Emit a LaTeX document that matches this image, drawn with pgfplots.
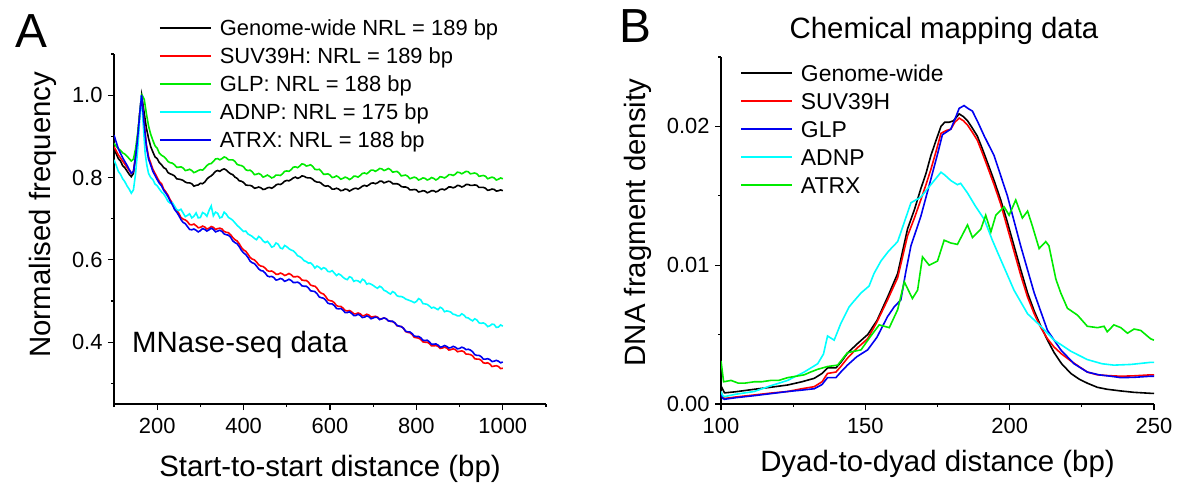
\documentclass[border=0pt]{standalone}
\usepackage{fontspec}
\setmainfont{Liberation Sans}
\usepackage{pgfplots}
\pgfplotsset{compat=1.18}
\definecolor{cred}{RGB}{255,0,0}
\definecolor{cgreen}{RGB}{0,235,0}
\definecolor{ccyan}{RGB}{0,255,255}
\definecolor{cblue}{RGB}{0,0,240}
\pgfplotsset{
  myaxis/.style={
    scale only axis, anchor=south west,
    axis lines=left,
    x axis line style={-}, y axis line style={-},
    axis line style={line width=1.2bp},
    tick align=outside, major tick length=6bp, minor tick length=3bp,
    every tick/.append style={line width=1.2bp, black},
    tick label style={font=\fontsize{22}{26}\selectfont},
    xticklabel style={yshift=-5bp},
    yticklabel style={xshift=-2bp},
    /pgf/number format/assume math mode=true,
    /pgf/number format/1000 sep={},
    legend cell align=left,
    legend image code/.code={\draw[##1, line width=1.7bp] (0bp,0bp) -- (51bp,0bp);},
    legend style={draw=none, fill=none, inner sep=0pt, column sep=7bp},
    every axis plot/.append style={line width=1.6bp, no markers},
  }
}
\begin{document}
\begin{tikzpicture}
\useasboundingbox (0bp,0bp) rectangle (1182bp,484bp);
% ---------------- Panel A ----------------
\begin{axis}[myaxis, at={(114bp,80bp)}, width=432bp, height=350bp,
  xmin=100, xmax=1100, ymin=0.25, ymax=1.1,
  xtick={200,400,...,1000}, minor xtick={100,300,...,1100},
  ytick={0.4,0.6,0.8,1.0}, minor ytick={0.3,0.5,0.7,0.9,1.1},
  yticklabel style={/pgf/number format/.cd, fixed, fixed zerofill, precision=1},
  xlabel={Start-to-start distance (bp)}, ylabel={Normalised frequency},
  every axis x label/.style={at={(axis description cs:0.5,-0.206)}, anchor=base, font=\fontsize{29.5}{34}\selectfont},
  every axis y label/.style={at={(axis description cs:-0.148,0.541)}, rotate=90, anchor=base, font=\fontsize{29.5}{34}\selectfont},
  legend style={at={(axis description cs:0.104,1.1015)}, anchor=north west, row sep=9bp,
    font=\fontsize{22}{26}\selectfont, nodes={inner sep=1bp, text height=16bp, text depth=1bp}},
]
\addplot[black] coordinates {(100,0.867)(105,0.858)(110,0.846)(115,0.84)(120,0.829)(125,0.824)(130,0.816)(135,0.808)(140,0.802)(145,0.81)(150,0.85)(155,0.9)(160,0.96)(164,1.0)(168,0.97)(175,0.92)(180,0.895)(185,0.875)(190,0.862)(195,0.85)(200,0.846)(205,0.836)(210,0.831)(215,0.824)(220,0.821)(225,0.812)(230,0.809)(235,0.807)(240,0.804)(245,0.797)(250,0.796)(255,0.795)(260,0.793)(265,0.789)(270,0.787)(275,0.787)(280,0.785)(285,0.779)(290,0.781)(295,0.782)(300,0.786)(305,0.785)(310,0.789)(315,0.796)(320,0.801)(325,0.804)(330,0.809)(335,0.815)(340,0.817)(345,0.815)(350,0.819)(355,0.821)(360,0.818)(365,0.813)(370,0.809)(375,0.807)(380,0.801)(385,0.798)(390,0.792)(395,0.791)(400,0.788)(405,0.782)(410,0.781)(415,0.781)(420,0.779)(425,0.774)(430,0.775)(435,0.777)(440,0.775)(445,0.771)(450,0.772)(455,0.775)(460,0.776)(465,0.774)(470,0.777)(475,0.782)(480,0.784)(485,0.783)(490,0.786)(495,0.791)(500,0.793)(505,0.792)(510,0.795)(515,0.799)(520,0.801)(525,0.798)(530,0.8)(535,0.804)(540,0.803)(545,0.8)(550,0.799)(555,0.799)(560,0.796)(565,0.791)(570,0.789)(575,0.789)(580,0.786)(585,0.781)(590,0.779)(595,0.78)(600,0.777)(605,0.772)(610,0.772)(615,0.774)(620,0.772)(625,0.768)(630,0.769)(635,0.772)(640,0.771)(645,0.767)(650,0.77)(655,0.773)(660,0.774)(665,0.772)(670,0.775)(675,0.779)(680,0.781)(685,0.779)(690,0.782)(695,0.786)(700,0.787)(705,0.785)(710,0.787)(715,0.791)(720,0.791)(725,0.787)(730,0.789)(735,0.791)(740,0.79)(745,0.785)(750,0.785)(755,0.785)(760,0.783)(765,0.778)(770,0.777)(775,0.777)(780,0.775)(785,0.77)(790,0.77)(795,0.771)(800,0.77)(805,0.765)(810,0.766)(815,0.768)(820,0.767)(825,0.763)(830,0.765)(835,0.768)(840,0.768)(845,0.765)(850,0.767)(855,0.771)(860,0.772)(865,0.77)(870,0.773)(875,0.777)(880,0.777)(885,0.775)(890,0.777)(895,0.781)(900,0.78)(905,0.777)(910,0.779)(915,0.783)(920,0.783)(925,0.781)(930,0.781)(935,0.782)(940,0.781)(945,0.776)(950,0.776)(955,0.776)(960,0.774)(965,0.769)(970,0.77)(975,0.772)(980,0.771)(985,0.767)(990,0.768)(995,0.77)(1000,0.768)};
\addlegendentry{Genome-wide NRL = 189 bp}
\addplot[cred] coordinates {(100,0.875)(110,0.855)(120,0.84)(130,0.825)(140,0.81)(145,0.815)(150,0.85)(155,0.9)(160,0.96)(164,1.0)(168,0.95)(175,0.88)(180,0.85)(190,0.82)(200,0.80)(205,0.79)(210,0.785)(215,0.772)(220,0.765)(225,0.757)(230,0.746)(235,0.738)(240,0.727)(245,0.721)(250,0.713)(255,0.703)(260,0.699)(265,0.697)(270,0.693)(275,0.686)(280,0.685)(285,0.687)(290,0.683)(295,0.678)(300,0.679)(305,0.682)(310,0.68)(315,0.675)(320,0.677)(325,0.681)(330,0.679)(335,0.674)(340,0.676)(345,0.677)(350,0.675)(355,0.669)(360,0.667)(365,0.666)(370,0.661)(375,0.654)(380,0.649)(385,0.646)(390,0.639)(395,0.63)(400,0.624)(405,0.621)(410,0.614)(415,0.606)(420,0.602)(425,0.6)(430,0.595)(435,0.588)(440,0.585)(445,0.584)(450,0.58)(455,0.574)(460,0.572)(465,0.573)(470,0.57)(475,0.565)(480,0.565)(485,0.568)(490,0.566)(495,0.562)(500,0.564)(505,0.567)(510,0.564)(515,0.559)(520,0.559)(525,0.56)(530,0.557)(535,0.551)(540,0.55)(545,0.55)(550,0.546)(555,0.539)(560,0.537)(565,0.536)(570,0.531)(575,0.523)(580,0.519)(585,0.517)(590,0.511)(595,0.503)(600,0.501)(605,0.5)(610,0.496)(615,0.489)(620,0.487)(625,0.487)(630,0.483)(635,0.477)(640,0.476)(645,0.477)(650,0.474)(655,0.469)(660,0.469)(665,0.471)(670,0.469)(675,0.464)(680,0.465)(685,0.468)(690,0.466)(695,0.461)(700,0.462)(705,0.463)(710,0.461)(715,0.456)(720,0.457)(725,0.459)(730,0.457)(735,0.452)(740,0.451)(745,0.45)(750,0.447)(755,0.44)(760,0.439)(765,0.438)(770,0.434)(775,0.426)(780,0.424)(785,0.423)(790,0.419)(795,0.412)(800,0.411)(805,0.41)(810,0.407)(815,0.401)(820,0.4)(825,0.4)(830,0.397)(835,0.391)(840,0.391)(845,0.392)(850,0.39)(855,0.385)(860,0.386)(865,0.388)(870,0.386)(875,0.381)(880,0.382)(885,0.384)(890,0.382)(895,0.377)(900,0.378)(905,0.379)(910,0.377)(915,0.371)(920,0.371)(925,0.37)(930,0.367)(935,0.36)(940,0.359)(945,0.359)(950,0.356)(955,0.35)(960,0.349)(965,0.35)(970,0.347)(975,0.341)(980,0.342)(985,0.343)(990,0.341)(995,0.336)(1000,0.337)};
\addlegendentry{SUV39H: NRL = 189 bp}
\addplot[cgreen] coordinates {(100,0.883)(105,0.876)(110,0.87)(115,0.866)(120,0.86)(125,0.857)(130,0.852)(135,0.846)(140,0.84)(145,0.845)(150,0.87)(155,0.91)(160,0.96)(165,1.0)(170,0.99)(175,0.955)(180,0.925)(185,0.905)(190,0.89)(195,0.877)(200,0.871)(205,0.859)(210,0.854)(215,0.851)(220,0.846)(225,0.839)(230,0.836)(235,0.835)(240,0.831)(245,0.825)(250,0.825)(255,0.826)(260,0.823)(265,0.817)(270,0.818)(275,0.82)(280,0.817)(285,0.812)(290,0.814)(295,0.817)(300,0.819)(305,0.818)(310,0.823)(315,0.829)(320,0.833)(325,0.834)(330,0.839)(335,0.845)(340,0.846)(345,0.843)(350,0.846)(355,0.85)(360,0.848)(365,0.843)(370,0.843)(375,0.843)(380,0.839)(385,0.832)(390,0.83)(395,0.829)(400,0.826)(405,0.819)(410,0.817)(415,0.818)(420,0.814)(425,0.807)(430,0.808)(435,0.81)(440,0.807)(445,0.801)(450,0.803)(455,0.806)(460,0.803)(465,0.799)(470,0.801)(475,0.806)(480,0.806)(485,0.805)(490,0.809)(495,0.815)(500,0.816)(505,0.815)(510,0.819)(515,0.825)(520,0.826)(525,0.824)(530,0.828)(535,0.833)(540,0.832)(545,0.828)(550,0.829)(555,0.831)(560,0.827)(565,0.82)(570,0.819)(575,0.82)(580,0.815)(585,0.808)(590,0.808)(595,0.809)(600,0.806)(605,0.8)(610,0.801)(615,0.804)(620,0.801)(625,0.796)(630,0.798)(635,0.801)(640,0.799)(645,0.795)(650,0.798)(655,0.803)(660,0.803)(665,0.801)(670,0.805)(675,0.81)(680,0.811)(685,0.809)(690,0.813)(695,0.818)(700,0.818)(705,0.815)(710,0.818)(715,0.822)(720,0.821)(725,0.817)(730,0.819)(735,0.822)(740,0.819)(745,0.813)(750,0.814)(755,0.815)(760,0.811)(765,0.804)(770,0.805)(775,0.806)(780,0.803)(785,0.797)(790,0.799)(795,0.801)(800,0.799)(805,0.794)(810,0.796)(815,0.799)(820,0.798)(825,0.794)(830,0.796)(835,0.8)(840,0.798)(845,0.794)(850,0.797)(855,0.802)(860,0.801)(865,0.799)(870,0.802)(875,0.807)(880,0.807)(885,0.805)(890,0.808)(895,0.813)(900,0.812)(905,0.809)(910,0.812)(915,0.815)(920,0.814)(925,0.809)(930,0.81)(935,0.811)(940,0.809)(945,0.803)(950,0.804)(955,0.805)(960,0.803)(965,0.797)(970,0.799)(975,0.801)(980,0.799)(985,0.794)(990,0.796)(995,0.799)(1000,0.797)};
\addlegendentry{GLP: NRL = 188 bp}
\addplot[ccyan] coordinates {(100,0.843)(105,0.83)(110,0.815)(115,0.808)(120,0.797)(125,0.79)(130,0.78)(135,0.772)(140,0.762)(145,0.77)(150,0.81)(155,0.87)(160,0.95)(163,1.0)(167,0.94)(172,0.86)(176,0.83)(180,0.81)(185,0.8)(190,0.795)(195,0.784)(200,0.78)(205,0.772)(210,0.765)(215,0.76)(220,0.752)(225,0.742)(230,0.738)(235,0.739)(240,0.731)(245,0.722)(250,0.72)(255,0.723)(260,0.714)(265,0.705)(270,0.708)(275,0.712)(280,0.702)(285,0.706)(290,0.714)(295,0.702)(300,0.703)(305,0.715)(310,0.712)(315,0.706)(320,0.72)(325,0.731)(330,0.707)(335,0.716)(340,0.713)(345,0.702)(350,0.704)(355,0.716)(360,0.711)(365,0.703)(370,0.70)(375,0.696)(380,0.69)(385,0.684)(390,0.679)(395,0.674)(400,0.669)(405,0.67)(410,0.663)(415,0.66)(420,0.657)(425,0.652)(430,0.649)(435,0.657)(440,0.653)(445,0.646)(450,0.642)(455,0.645)(460,0.639)(465,0.631)(470,0.633)(475,0.641)(480,0.638)(485,0.629)(490,0.627)(495,0.635)(500,0.632)(505,0.627)(510,0.624)(515,0.622)(520,0.617)(525,0.61)(530,0.608)(535,0.604)(540,0.598)(545,0.596)(550,0.592)(555,0.593)(560,0.588)(565,0.58)(570,0.585)(575,0.582)(580,0.577)(585,0.581)(590,0.579)(595,0.572)(600,0.571)(605,0.574)(610,0.568)(615,0.562)(620,0.566)(625,0.563)(630,0.558)(635,0.554)(640,0.552)(645,0.559)(650,0.557)(655,0.548)(660,0.55)(665,0.549)(670,0.545)(675,0.553)(680,0.55)(685,0.541)(690,0.543)(695,0.541)(700,0.538)(705,0.534)(710,0.531)(715,0.536)(720,0.533)(725,0.526)(730,0.524)(735,0.52)(740,0.517)(745,0.523)(750,0.52)(755,0.513)(760,0.511)(765,0.511)(770,0.509)(775,0.505)(780,0.503)(785,0.501)(790,0.499)(795,0.496)(800,0.499)(805,0.506)(810,0.503)(815,0.494)(820,0.493)(825,0.492)(830,0.488)(835,0.483)(840,0.485)(845,0.482)(850,0.479)(855,0.485)(860,0.482)(865,0.474)(870,0.476)(875,0.475)(880,0.473)(885,0.468)(890,0.467)(895,0.464)(900,0.464)(905,0.469)(910,0.466)(915,0.46)(920,0.459)(925,0.455)(930,0.452)(935,0.457)(940,0.454)(945,0.447)(950,0.446)(955,0.447)(960,0.444)(965,0.438)(970,0.44)(975,0.444)(980,0.443)(985,0.436)(990,0.437)(995,0.442)(1000,0.439)};
\addlegendentry{ADNP: NRL = 175 bp}
\addplot[cblue] coordinates {(100,0.903)(110,0.87)(120,0.848)(130,0.83)(140,0.81)(145,0.815)(150,0.85)(155,0.9)(160,0.96)(164,1.0)(168,0.95)(175,0.875)(180,0.845)(190,0.815)(200,0.795)(205,0.786)(210,0.78)(215,0.769)(220,0.762)(225,0.754)(230,0.743)(235,0.734)(240,0.723)(245,0.716)(250,0.708)(255,0.698)(260,0.691)(265,0.688)(270,0.681)(275,0.674)(280,0.673)(285,0.675)(290,0.672)(295,0.668)(300,0.671)(305,0.676)(310,0.674)(315,0.67)(320,0.673)(325,0.677)(330,0.674)(335,0.668)(340,0.67)(345,0.672)(350,0.669)(355,0.663)(360,0.661)(365,0.66)(370,0.655)(375,0.646)(380,0.642)(385,0.639)(390,0.632)(395,0.623)(400,0.617)(405,0.613)(410,0.606)(415,0.597)(420,0.593)(425,0.591)(430,0.585)(435,0.578)(440,0.574)(445,0.573)(450,0.568)(455,0.561)(460,0.559)(465,0.56)(470,0.557)(475,0.551)(480,0.552)(485,0.555)(490,0.553)(495,0.548)(500,0.55)(505,0.553)(510,0.55)(515,0.545)(520,0.545)(525,0.546)(530,0.543)(535,0.537)(540,0.536)(545,0.536)(550,0.532)(555,0.525)(560,0.524)(565,0.523)(570,0.518)(575,0.51)(580,0.508)(585,0.507)(590,0.502)(595,0.495)(600,0.493)(605,0.493)(610,0.489)(615,0.482)(620,0.481)(625,0.482)(630,0.478)(635,0.472)(640,0.472)(645,0.474)(650,0.47)(655,0.465)(660,0.465)(665,0.468)(670,0.465)(675,0.46)(680,0.461)(685,0.464)(690,0.462)(695,0.457)(700,0.459)(705,0.461)(710,0.46)(715,0.455)(720,0.457)(725,0.459)(730,0.457)(735,0.452)(740,0.451)(745,0.451)(750,0.447)(755,0.441)(760,0.439)(765,0.438)(770,0.434)(775,0.427)(780,0.425)(785,0.425)(790,0.421)(795,0.415)(800,0.414)(805,0.414)(810,0.411)(815,0.405)(820,0.404)(825,0.405)(830,0.401)(835,0.395)(840,0.395)(845,0.396)(850,0.393)(855,0.388)(860,0.389)(865,0.392)(870,0.39)(875,0.386)(880,0.387)(885,0.39)(890,0.388)(895,0.384)(900,0.385)(905,0.388)(910,0.386)(915,0.382)(920,0.383)(925,0.381)(930,0.377)(935,0.37)(940,0.368)(945,0.368)(950,0.365)(955,0.359)(960,0.359)(965,0.36)(970,0.358)(975,0.353)(980,0.354)(985,0.356)(990,0.354)(995,0.35)(1000,0.352)};
\addlegendentry{ATRX: NRL = 188 bp}
\node[anchor=base west, inner sep=0pt, font=\fontsize{29.5}{34}\selectfont] at (axis cs:141.7,0.375) {MNase-seq data};
\end{axis}
% ---------------- Panel B ----------------
\begin{axis}[myaxis, at={(721bp,80bp)}, width=433bp, height=347bp,
  xmin=100, xmax=250, ymin=0, ymax=0.025,
  xtick={100,150,200,250}, minor xtick={125,175,225},
  ytick={0,0.01,0.02}, minor ytick={0.005,0.015,0.025},
  scaled y ticks=false,
  yticklabel style={/pgf/number format/.cd, fixed, fixed zerofill, precision=2},
  xlabel={Dyad-to-dyad distance (bp)}, ylabel={DNA fragment density},
  every axis x label/.style={at={(axis description cs:0.5,-0.1935)}, anchor=base, font=\fontsize{29.5}{34}\selectfont},
  every axis y label/.style={at={(axis description cs:-0.1755,0.523)}, rotate=90, anchor=base, font=\fontsize{29.5}{34}\selectfont},
  title={Chemical mapping data},
  every axis title/.style={at={(axis description cs:0.515,1.052)}, anchor=base, font=\fontsize{29.5}{34}\selectfont},
  legend style={at={(axis description cs:0.044,0.983)}, anchor=north west, row sep=8bp,
    font=\fontsize{23}{27}\selectfont, nodes={inner sep=1bp, text height=17bp, text depth=1bp}},
]
\addplot[black] coordinates {(100,0.0013)(100.5,0.0011)(101.2,0.0008)(105,0.00088)(111.5,0.00106)(117,0.0012)(123.1,0.00137)(128,0.0016)(132.3,0.00185)(135,0.0022)(136.9,0.0026)(139.8,0.0026)(141.5,0.003)(143.8,0.00366)(147,0.0043)(150.8,0.005)(154,0.006)(157.7,0.0077)(161.2,0.0094)(164.6,0.0126)(167,0.014)(169.2,0.0155)(171,0.0166)(172.7,0.0179)(174.5,0.019)(176.2,0.02)(177.5,0.0203)(179,0.0203)(180.5,0.0204)(182.5,0.0209)(184,0.0207)(185.4,0.0204)(187,0.0199)(188.8,0.0193)(190.5,0.0184)(192.3,0.0174)(194.6,0.0161)(196.9,0.0147)(199.2,0.0131)(201.5,0.0114)(203.8,0.0097)(206.2,0.008)(208.5,0.0067)(210.8,0.0056)(213.1,0.0046)(215.4,0.0037)(218,0.0029)(221.2,0.0022)(224,0.0018)(226.9,0.0015)(230.4,0.0012)(233.8,0.00106)(238.5,0.00094)(243.1,0.00084)(248.8,0.00077)(250,0.00076)};
\addlegendentry{Genome-wide}
\addplot[cred] coordinates {(100,0.0009)(100.6,0.0005)(101.2,0.0004)(105,0.0005)(111.5,0.00065)(117,0.00078)(123.1,0.0009)(128,0.0011)(132.3,0.00125)(135,0.0016)(136.9,0.0022)(139.8,0.0023)(141.5,0.0027)(143.8,0.0033)(147,0.004)(150.8,0.0047)(154,0.0059)(157.7,0.0075)(161.2,0.0091)(164.6,0.0121)(167,0.0134)(169.2,0.0147)(171,0.0158)(172.7,0.0169)(174.5,0.0182)(176.2,0.0195)(178,0.0197)(179.6,0.0198)(181,0.0203)(182.5,0.0206)(184,0.0204)(185.4,0.0201)(187,0.0196)(188.8,0.019)(190.5,0.0181)(192.3,0.0171)(194.6,0.0158)(196.9,0.0144)(199.2,0.0127)(201.5,0.011)(203.8,0.0093)(206.2,0.0077)(208.5,0.0065)(210.8,0.0055)(213.1,0.0047)(215.4,0.0041)(218,0.0036)(221.2,0.0031)(224,0.0027)(226.9,0.0023)(230.4,0.0021)(233.8,0.00205)(238.5,0.002)(243.1,0.00203)(248.8,0.0021)(250,0.0021)};
\addlegendentry{SUV39H}
\addplot[cblue] coordinates {(100,0.0008)(100.6,0.0004)(101.2,0.00034)(105,0.00045)(111.5,0.0006)(117,0.00074)(123.1,0.0009)(128,0.001)(132.3,0.0011)(135,0.0014)(136.9,0.0019)(139.8,0.0019)(141.5,0.0023)(143.8,0.0028)(147,0.0034)(150.8,0.0039)(154,0.0048)(157.7,0.0063)(160,0.007)(162.3,0.0075)(164,0.0095)(165.8,0.0114)(169.2,0.0135)(172.7,0.0162)(175,0.018)(176.7,0.0194)(179.6,0.0198)(181,0.0205)(182.5,0.0213)(184.2,0.0215)(185.5,0.0213)(187.1,0.0211)(189,0.0203)(191.2,0.0193)(194.6,0.0179)(199.2,0.015)(203.8,0.0114)(208.5,0.008)(213.1,0.0053)(217.7,0.0039)(222.3,0.0029)(226.9,0.0023)(231,0.0021)(235,0.002)(238.5,0.0019)(243,0.00192)(248.8,0.002)(250,0.002)};
\addlegendentry{GLP}
\addplot[ccyan] coordinates {(100,0.0009)(100.6,0.0006)(101.2,0.00053)(105,0.0007)(111.5,0.0009)(117,0.0013)(123.1,0.0017)(128.8,0.0023)(133.5,0.0029)(135.5,0.0036)(136.9,0.0049)(139.2,0.0046)(141.5,0.0058)(144.4,0.007)(146,0.0074)(148.5,0.008)(151.3,0.0085)(153,0.0094)(155.4,0.0103)(158,0.011)(161.2,0.0117)(163.5,0.0131)(165.8,0.0145)(169.2,0.0149)(172.7,0.0158)(176.2,0.0167)(177.5,0.0165)(179.6,0.0161)(181.9,0.0158)(183,0.0159)(185.4,0.0152)(188,0.0143)(191.2,0.0133)(194,0.0118)(196.9,0.0104)(199,0.0094)(201.5,0.0082)(206.2,0.0065)(210.8,0.0056)(215.4,0.0046)(221.2,0.0038)(226.9,0.0032)(232,0.0029)(236.1,0.0028)(242,0.00285)(248.8,0.003)(250,0.003)};
\addlegendentry{ADNP}
\addplot[cgreen] coordinates {(100,0.0031)(100.9,0.0016)(103.5,0.0017)(106,0.0015)(108.1,0.0015)(111.5,0.0016)(114,0.0016)(117.3,0.0017)(120,0.0017)(123.1,0.0019)(126,0.002)(128.8,0.0021)(131,0.0023)(133.5,0.0025)(136.9,0.0027)(140.4,0.0028)(143.8,0.0037)(148.5,0.0039)(151.9,0.0049)(154.8,0.0057)(158.3,0.0055)(161.2,0.0068)(163.5,0.0088)(166.3,0.0076)(168.1,0.0082)(169.8,0.0106)(172.1,0.01)(175,0.0103)(177.3,0.0118)(179.6,0.0116)(181.9,0.0115)(185.4,0.0129)(187.1,0.012)(190,0.0126)(191.7,0.0136)(193.5,0.0124)(195.2,0.0136)(198.1,0.0142)(199.8,0.0136)(202.1,0.0147)(204.4,0.0134)(206.2,0.0139)(207.9,0.0128)(210.2,0.0112)(212.5,0.0117)(213.6,0.0114)(216,0.009)(217.7,0.008)(220,0.0069)(223.5,0.0064)(226.9,0.0056)(230.4,0.0055)(232.7,0.0056)(233.8,0.0052)(236.1,0.0057)(238.5,0.0055)(240.8,0.0051)(243.1,0.0054)(245.4,0.0053)(248.8,0.0047)(250,0.0046)};
\addlegendentry{ATRX}
\end{axis}
\node[anchor=base west, inner sep=0pt, font=\fontsize{48}{52}\selectfont] at (15bp,436bp) {A};
\node[anchor=base west, inner sep=0pt, font=\fontsize{48}{52}\selectfont] at (619.5bp,441bp) {B};
\end{tikzpicture}
\end{document}
